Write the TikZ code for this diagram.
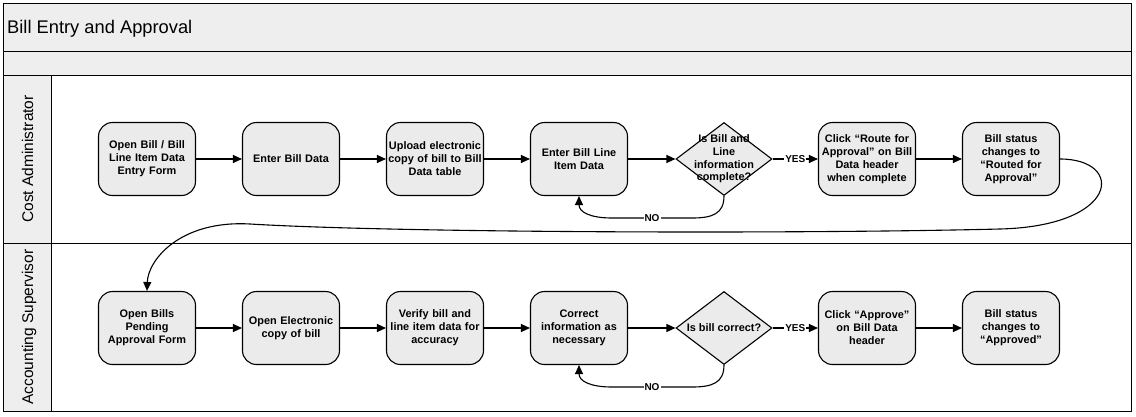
\documentclass[tikz,border=0pt]{standalone}
\usepackage{fontspec}
\setmainfont{Liberation Sans}
\usetikzlibrary{arrows.meta, shapes.geometric}
\definecolor{lanegray}{HTML}{EEEEEE}
\definecolor{boxgray}{HTML}{EBEBEB}

\begin{document}
\begin{tikzpicture}[x=1pt, y=-1pt,
		lane/.style={draw, line width=0.8pt, fill=lanegray},
		task/.style={draw, line width=1.1pt, fill=boxgray, rounded corners=14pt, text width=95pt, inner xsep=1pt, minimum height=73pt, align=center, font=\fontsize{10.9}{13}\selectfont\bfseries},
		decision/.style={draw, diamond, line width=1.1pt, fill=boxgray, minimum width=96pt, minimum height=73pt, inner sep=0pt},
		decisiontext/.style={align=center, font=\fontsize{10.9}{12.7}\selectfont\bfseries},
		flow/.style={-{Triangle[length=9pt,width=8pt]}, line width=1.1pt},
		answer/.style={fill=white, inner sep=1pt, font=\fontsize{10}{11}\selectfont\bfseries},
		lanename/.style={rotate=90, anchor=base, inner sep=0pt, font=\fontsize{15.5}{18}\selectfont}]
				\useasboundingbox (0,0) rectangle (1136,416);
				
				\draw[lane] (3,3) rectangle (1131,51);
				\draw[lane] (3,51) rectangle (1131,75);
				\draw[line width=0.8pt] (3,75) rectangle (1131,411);
				\draw[lane] (3,75) rectangle (51,243);
				\draw[lane] (3,243) rectangle (51,411);
				\draw[line width=0.8pt] (3,243) -- (1131,243);
				
				\node(title) [anchor=base west, inner sep=0pt, font=\fontsize{18.3}{22}\selectfont] at (7,33) {Bill Entry and Approval};
				\node(lanecost) [lanename] at (33,159) {Cost Administrator};
				\node(laneacct) [lanename] at (33,327) {Accounting Supervisor};
				
				% cost administrator
				\node(cost1) [task] at (147,159) {Open Bill / Bill\\Line Item Data\\Entry Form};
				\node(cost2) [task] at (291,159) {Enter Bill Data};
				\node(cost3) [task] at (435,159) {Upload electronic\\copy of bill to Bill\\Data table};
				\node(cost4) [task] at (579,159) {Enter Bill Line\\Item Data};
				\node(costq) [decision] at (724,159) {};
				\node(costqtext) [decisiontext] at (costq) {Is Bill and\\Line\\information\\complete?};
				\node(cost6) [task] at (867,159) {Click “Route for\\Approval” on Bill\\Data header\\when complete};
				\node(cost7) [task] at (1011,159) {Bill status\\changes to\\“Routed for\\Approval”};
				
				% accounting supervisor
				\node(acct1) [task] at (147,328) {Open Bills\\Pending\\Approval Form};
				\node(acct2) [task] at (291,328) {Open Electronic\\copy of bill};
				\node(acct3) [task] at (435,328) {Verify bill and\\line item data for\\accuracy};
				\node(acct4) [task] at (579,328) {Correct\\information as\\necessary};
				\node(acctq) [decision] at (724,328) {};
				\node(acctqtext) [decisiontext] at (acctq) {Is bill correct?};
				\node(acct6) [task] at (867,328) {Click “Approve”\\on Bill Data\\header};
				\node(acct7) [task] at (1011,328) {Bill status\\changes to\\“Approved”};
				
				\draw[flow] (cost1) -- (cost2);
				\draw[flow] (cost2) -- (cost3);
				\draw[flow] (cost3) -- (cost4);
				\draw[flow] (cost4) -- (costq);
				\draw[flow] (costq) -- node[answer] {YES} (cost6);
				\draw[flow] (cost6) -- (cost7);
				\draw[flow] (costq.south) .. controls (724,214) and (712,218) .. (692,218) -- node[answer] {NO} (612,218) .. controls (590,218) and (579,212) .. (cost4.south);
				
				\draw[flow] (cost7.east) .. controls (1125,159) and (1120,226) .. (1000,229) .. controls (800,234) and (400,233) .. (250,224) .. controls (180,220) and (148,260) .. (acct1.north);
				
				\draw[flow] (acct1) -- (acct2);
				\draw[flow] (acct2) -- (acct3);
				\draw[flow] (acct3) -- (acct4);
				\draw[flow] (acct4) -- (acctq);
				\draw[flow] (acctq) -- node[answer] {YES} (acct6);
				\draw[flow] (acct6) -- (acct7);
				\draw[flow] (acctq.south) .. controls (724,383) and (712,387) .. (692,387) -- node[answer] {NO} (612,387) .. controls (590,387) and (579,381) .. (acct4.south);
				
			\end{tikzpicture}
\end{document}
